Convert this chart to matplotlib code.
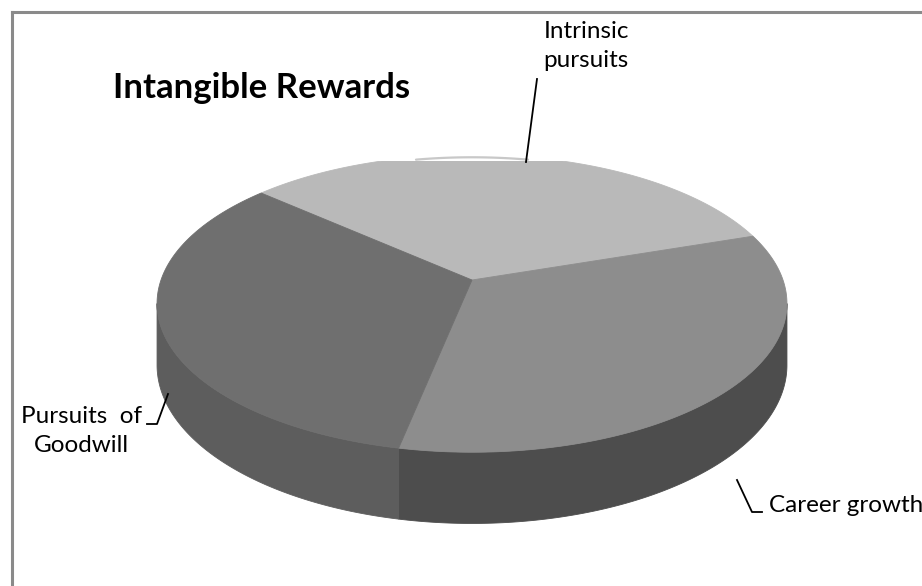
import numpy as np
import matplotlib
matplotlib.use("Agg")
import matplotlib.pyplot as plt
from matplotlib.patches import Polygon, Rectangle

# Chart data
categories = ["Intrinsic pursuits", "Career growth", "Pursuits of Goodwill"]
values = [1, 1, 1]
label_texts = ["Intrinsic\npursuits", "Career growth", "Pursuits  of\nGoodwill"]
title_text = "Intangible Rewards"

top_colors = ["#b9b9b9", "#8d8d8d", "#6f6f6f"]
side_colors = ["#9a9a9a", "#4d4d4d", "#5d5d5d"]

W, H = 922, 586
fig = plt.figure(figsize=(W / 100, H / 100), dpi=100)
ax = fig.add_axes([0, 0, 1, 1])
ax.set_xlim(0, W)
ax.set_ylim(H, 0)
ax.axis("off")

FONT = ["Lato", "DejaVu Sans"]

# Perspective view of a tilted disc
cx, cy = 472.0, 280.0
A, B, k = 311.0, 145.0, 0.158
DEPTH = 60.0
start_deg = 138.5


def rim(theta, drop=0.0):
    u, v = np.cos(theta), np.sin(theta)
    s = 1.0 + k * v
    return cx + A * u / s, cy - B * v / s + drop / s


fracs = np.asarray(values, dtype=float) / np.sum(values)
bounds = start_deg - 360.0 * np.concatenate([[0], np.cumsum(fracs)])

# front-facing part of the cylinder wall
vis0 = np.radians(180.0 + np.degrees(np.arcsin(k)))
vis1 = np.radians(360.0 - np.degrees(np.arcsin(k)))

clip = Rectangle((0, 160.5), W, H, transform=ax.transData, visible=False)
ax.add_patch(clip)

# side walls first
for i in range(len(values)):
    a_hi = np.radians(bounds[i])
    a_lo = np.radians(bounds[i + 1])
    for off in (-2 * np.pi, 0.0, 2 * np.pi):
        lo = max(a_lo, vis0 + off)
        hi = min(a_hi, vis1 + off)
        if hi <= lo:
            continue
        th = np.linspace(lo, hi, 200)
        tx, ty = rim(th)
        bx, by = rim(th[::-1], DEPTH)
        pts = np.column_stack([np.concatenate([tx, bx]), np.concatenate([ty, by])])
        ax.add_patch(Polygon(pts, closed=True, facecolor=side_colors[i],
                             edgecolor=side_colors[i], lw=0.6, zorder=2))

# faint rim above the clipped top edge
th = np.linspace(np.radians(78), np.radians(102), 100)
gx, gy = rim(th)
ax.plot(gx, gy + 2.5, color="#c8c8c8", lw=1.6, zorder=1, solid_capstyle="round")

# top faces
for i in range(len(values)):
    th = np.linspace(np.radians(bounds[i]), np.radians(bounds[i + 1]), 300)
    tx, ty = rim(th)
    pts = np.column_stack([np.concatenate([[cx], tx]), np.concatenate([[cy], ty])])
    p = Polygon(pts, closed=True, facecolor=top_colors[i],
                edgecolor=top_colors[i], lw=0.6, zorder=3)
    ax.add_patch(p)
    p.set_clip_path(clip)

# frame
ax.plot([11.5, 11.5], [H, 11.5], color="#8a8a8a", lw=2.2, zorder=5)
ax.plot([11.5, W], [11.5, 11.5], color="#8a8a8a", lw=2.2, zorder=5)

# title
ax.text(113, 88, title_text, fontsize=25, fontweight="bold", family=FONT,
        ha="left", va="center", color="black", zorder=6)

# labels and leader lines
lc = "black"
ax.text(586, 46, label_texts[0], fontsize=17.5, family=FONT, ha="center",
        va="center", linespacing=1.45, zorder=6)
ax.plot([537, 526], [79, 162], color=lc, lw=1.3, zorder=6)

ax.text(769, 506, label_texts[1], fontsize=17.5, family=FONT, ha="left",
        va="center", zorder=6)
ax.plot([737, 752, 762], [480, 512, 512], color=lc, lw=1.3, zorder=6)

ax.text(81, 431, label_texts[2], fontsize=17.5, family=FONT, ha="center",
        va="center", linespacing=1.45, zorder=6)
ax.plot([147, 157, 168], [424, 424, 394], color=lc, lw=1.3, zorder=6)

fig.savefig("out.png", dpi=100)
